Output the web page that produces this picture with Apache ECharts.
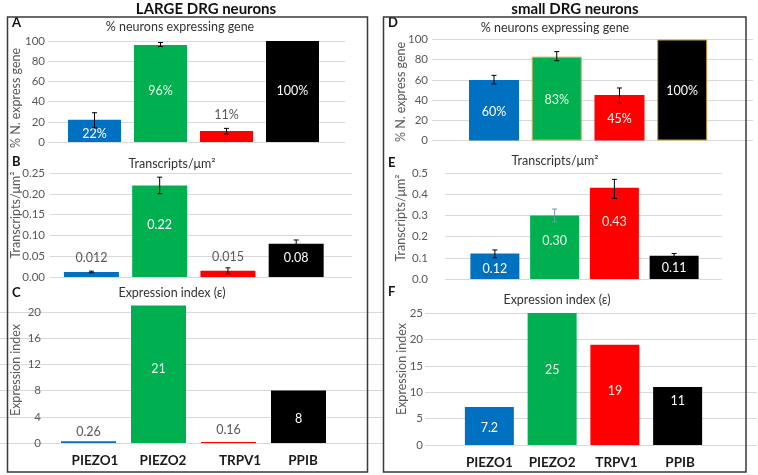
<!DOCTYPE html>
<html><head><meta charset="utf-8">
<script src="https://cdn.jsdelivr.net/npm/echarts@6/dist/echarts.min.js"></script>
<style>html,body{margin:0;padding:0;background:#fff}#c{width:758px;height:475px}</style>
</head><body><div id="c"></div>
<script>
// ---------- data ----------
const categories = ['PIEZO1', 'PIEZO2', 'TRPV1', 'PPIB'];
const largePct = [22, 96, 11, 100];
const largePctErr = [[14, 29], [94.5, 98.5], [8, 13.5], null];
const largeDensity = [0.012, 0.22, 0.015, 0.08];
const largeDensityErr = [[0.010, 0.014], [0.20, 0.24], [0.008, 0.022], [0.07, 0.089]];
const largeIndex = [0.26, 21, 0.16, 8];
const smallPct = [60, 83, 45, 100];
const smallPctErr = [[56, 64.5], [79, 88], [37, 52], null];
const smallDensity = [0.12, 0.30, 0.43, 0.11];
const smallDensityErr = [[0.10, 0.137], [0.27, 0.33], [0.38, 0.47], [0.10, 0.12]];
const smallIndex = [7.2, 25, 19, 11];
const pctAxis = [0, 100, 20];
const largeDensityAxis = [0, 0.25, 0.05];
const largeIndexAxis = [0, 20, 4];
const smallDensityAxis = [0, 0.5, 0.1];
const smallIndexAxis = [0, 25, 5];

// ---------- styles ----------
const FONT = 'Lato, "Noto Sans", sans-serif';
const barColors = ['#0070C0', '#00B050', '#FF0000', '#000000'];
const GRAY = '#595959';
const W = '#ffffff', PG = '#e6f7e8', PR = '#ffe8e8';
const IN = (c, dy) => ({ position: 'inside', color: c, offset: [0, dy] });
const TOP = (d) => ({ position: 'top', color: GRAY, distance: d });

const panels = [
  { letter: 'A', title: '% neurons expressing gene', tx: 180, ty: 27, lx: 12, ly: 23,
    bg: { left: 48, top: 41, width: 297, height: 101 }, bar: { left: 61.5, width: 264 }, barWidth: 53,
    axis: pctAxis, values: largePct, err: largePctErr, fmt: v => v + '%', tick: v => String(v),
    labels: [IN(W, 3), IN(PG, -3), TOP(9), IN(W, -1)], yName: '% N. express gene', nameGap: 26, namePad: [0, 13, 0, 0], lm: 3, off: 0 },
  { letter: 'B', title: 'Transcripts/\u03bcm\u00b2', tx: 172, ty: 164, lx: 12, ly: 162,
    bg: { left: 50, top: 173, width: 302, height: 104 }, bar: { left: 57.3, width: 273 }, barWidth: 55,
    axis: largeDensityAxis, values: largeDensity, err: largeDensityErr, fmt: v => String(v), tick: v => v.toFixed(2),
    labels: [TOP(8), IN(W, -6), TOP(7), IN(W, -2)], yName: 'Transcripts/\u03bcm\u00b2', nameGap: 28, namePad: [0, 0, 0, 20], lm: 5, off: 0 },
  { letter: 'C', title: 'Expression index (\u03b5)', tx: 172, ty: 293, lx: 12, ly: 293,
    bg: { left: 0, top: 312, width: 383, height: 131 }, bar: { left: 53.5, width: 280 }, barWidth: 55,
    axis: largeIndexAxis, values: largeIndex, err: null, fmt: v => String(v), tick: v => String(v),
    labels: [TOP(3), IN(PG, -5), TOP(5), IN(W, 2)], yName: 'Expression index', nameGap: 23, namePad: [0, 0, 0, 15], lm: 4, off: -45,
    showX: true, xPads: [13, 9, 23, 9] },
  { letter: 'D', title: '% neurons expressing gene', tx: 555, ty: 28, lx: 388, ly: 23,
    bg: { left: 432, top: 39.5, width: 321, height: 101 }, bar: { left: 462.6, width: 251 }, barWidth: 50,
    axis: pctAxis, values: smallPct, err: smallPctErr, fmt: v => v + '%', tick: v => String(v),
    labels: [IN(W, 2), IN(PG, 1), IN(W, 1), IN(W, 1)], yName: '% N. express gene', nameGap: 25, namePad: [0, 4, 0, 0], lm: 4, off: 0,
    borders: [null, '#c8ad5a', null, '#c8a23c'] },
  { letter: 'E', title: 'Transcripts/\u03bcm\u00b2', tx: 555, ty: 161, lx: 388, ly: 163,
    bg: { left: 445, top: 173, width: 277, height: 106 }, bar: { left: 465, width: 239 }, barWidth: 49,
    axis: smallDensityAxis, values: smallDensity, err: smallDensityErr, fmt: v => v.toFixed(2), tick: v => v.toFixed(1),
    labels: [IN(W, 3), IN(PG, -6), IN(PR, -11), IN(W, 1)], yName: 'Transcripts/\u03bcm\u00b2', nameGap: 38, namePad: [0, 0, 0, 16], lm: 17, off: 0,
    errColors: ['#000', '#7f90a8', '#000', '#000'] },
  { letter: 'F', title: 'Expression index (\u03b5)', tx: 557, ty: 300, lx: 388, ly: 292,
    bg: { left: 425, top: 313, width: 332, height: 132 }, bar: { left: 458, width: 251 }, barWidth: 49,
    axis: smallIndexAxis, values: smallIndex, err: null, fmt: v => String(v), tick: v => String(v),
    labels: [IN(W, 2), IN(PG, -9), IN(PR, -4), IN(W, -15)], yName: 'Expression index', nameGap: 17, namePad: [0, 0, 0, 20], lm: 2, off: 0,
    showX: true, xPads: [0, 0, 3, 5] }
];

const grid = [], xAxis = [], yAxis = [], series = [], graphic = [];
panels.forEach((p, i) => {
  const gBg = i * 2, gBar = i * 2 + 1;
  grid.push(Object.assign({}, p.bg));
  grid.push({ left: p.bar.left, width: p.bar.width, top: p.bg.top, height: p.bg.height });
  xAxis.push({ type: 'value', gridIndex: gBg, show: false, min: 0, max: 1 });
  xAxis.push({ type: 'category', gridIndex: gBar,
    data: categories.map((c, k) => ({ value: c, textStyle: { padding: [0, 0, 0, p.xPads ? p.xPads[k] : 0] } })),
    axisLine: { show: false }, axisTick: { show: false },
    axisLabel: { show: !!p.showX, margin: 11, fontFamily: FONT, fontSize: 13.5, fontWeight: 'bold', color: '#1a1a1a' } });
  yAxis.push({ type: 'value', gridIndex: gBg, min: p.axis[0], max: p.axis[1], interval: p.axis[2], offset: p.off,
    axisLine: { show: false }, axisTick: { show: false },
    axisLabel: { margin: p.lm, color: GRAY, fontFamily: FONT, fontSize: 11.5, formatter: p.tick },
    splitLine: { lineStyle: { color: '#d9d9d9', width: 1 } },
    name: p.yName, nameLocation: 'middle', nameGap: p.nameGap, nameMoveOverlap: false,
    nameTextStyle: { color: GRAY, fontFamily: FONT, fontSize: 12.5, padding: p.namePad } });
  yAxis.push({ type: 'value', gridIndex: gBar, min: p.axis[0], max: p.axis[1], show: false, splitLine: { show: false } });
  series.push({
    type: 'bar', xAxisIndex: gBar, yAxisIndex: gBar, barWidth: p.barWidth, clip: false, z: 2,
    data: p.values.map((v, k) => ({
      value: v,
      itemStyle: { color: barColors[k], borderColor: p.borders && p.borders[k] ? p.borders[k] : barColors[k], borderWidth: p.borders && p.borders[k] ? 1 : 0 },
      label: Object.assign({ show: true, fontFamily: FONT, fontSize: 12.5, formatter: () => p.fmt(v) }, p.labels[k])
    }))
  });
  if (p.err) {
    const errData = [];
    p.err.forEach((e, k) => { if (e) errData.push([k, e[0], e[1]]); });
    series.push({
      type: 'custom', xAxisIndex: gBar, yAxisIndex: gBar, z: 5, silent: true,
      encode: { x: 0, y: [1, 2] },
      data: errData,
      renderItem: (params, api) => {
        const k = api.value(0);
        const lo = api.coord([k, api.value(1)]);
        const hi = api.coord([k, api.value(2)]);
        const c = p.errColors ? p.errColors[k] : '#000';
        const cap = 2.5, st = { stroke: c, lineWidth: 1 };
        return { type: 'group', children: [
          { type: 'line', shape: { x1: hi[0], y1: hi[1], x2: lo[0], y2: lo[1] }, style: st },
          { type: 'line', shape: { x1: hi[0] - cap, y1: hi[1], x2: hi[0] + cap, y2: hi[1] }, style: st },
          { type: 'line', shape: { x1: lo[0] - cap, y1: lo[1], x2: lo[0] + cap, y2: lo[1] }, style: st }
        ] };
      }
    });
  }
  graphic.push({ type: 'text', x: p.tx, y: p.ty, z: 10,
    style: { text: p.title, fill: '#333', font: '12.5px ' + FONT, textAlign: 'center', textVerticalAlign: 'middle' } });
  graphic.push({ type: 'text', x: p.lx, y: p.ly, z: 10,
    style: { text: p.letter, fill: '#111', font: 'bold 13px ' + FONT, textAlign: 'left', textVerticalAlign: 'middle' } });
});

graphic.push({ type: 'rect', shape: { x: 7.5, y: 17, width: 360, height: 455 }, z: 20,
  style: { fill: null, stroke: '#3a3a3a', lineWidth: 1.5 } });
graphic.push({ type: 'rect', shape: { x: 383.5, y: 17, width: 362.5, height: 455 }, z: 20,
  style: { fill: null, stroke: '#3a3a3a', lineWidth: 1.5 } });
graphic.push({ type: 'text', x: 206, y: 9, z: 10,
  style: { text: 'LARGE DRG neurons', fill: '#111', font: 'bold 15px ' + FONT, textAlign: 'center', textVerticalAlign: 'middle' } });
graphic.push({ type: 'text', x: 575, y: 9, z: 10,
  style: { text: 'small DRG neurons', fill: '#111', font: 'bold 15px ' + FONT, textAlign: 'center', textVerticalAlign: 'middle' } });

const chart = echarts.init(document.getElementById('c'), null, { renderer: 'canvas' });
chart.setOption({ backgroundColor: '#fff', animation: false, grid, xAxis, yAxis, series, graphic });
</script></body></html>
